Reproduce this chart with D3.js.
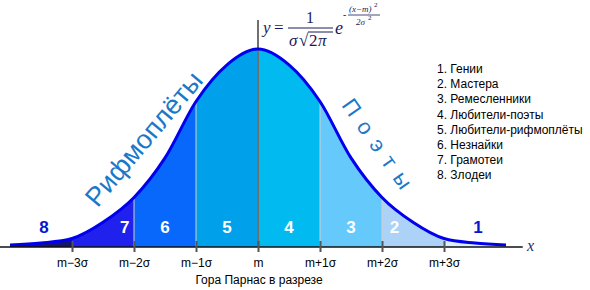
<!DOCTYPE html>
<html>
<head>
<meta charset="utf-8">
<script src="https://cdn.jsdelivr.net/npm/d3@7"></script>
<style>
  body { margin: 0; background: #fff; }
  svg { display: block; font-family: "Liberation Sans", Arial, sans-serif; }
</style>
</head>
<body>
<div id="chart"></div>
<script>
// curve: position in sigma units, height as share of peak
const sigmaPos = [-4, -3.5, -3, -2.5, -2, -1.5, -1, -0.5, 0, 0.5, 1, 1.5, 2, 2.5, 3, 3.5, 4];
const heights  = [0.01, 0.02, 0.043, 0.125, 0.25, 0.45, 0.735, 0.92, 1, 0.92, 0.735, 0.45, 0.25, 0.125, 0.043, 0.02, 0.01];

// bands between the sigma marks, left to right
const bandEdges  = [-4, -3, -2, -1, 0, 1, 2, 3, 4];
const bandNums   = ["8", "7", "6", "5", "4", "3", "2", "1"];
const bandColors = ["#15156e", "#2121ee", "#0868fb", "#00a0ea", "#00baf0", "#66c9fb", "#acd2f7", "#dbeefd"];
const numPos     = [-3.45, -2.15, -1.5, -0.5, 0.5, 1.5, 2.2, 3.55];
const numColors  = ["#0a14cc", "#fff", "#fff", "#fff", "#fff", "#fff", "#fff", "#0a14cc"];

const tickVals   = [-3, -2, -1, 0, 1, 2, 3];
const tickLabels = ["m\u22123\u03c3", "m\u22122\u03c3", "m\u22121\u03c3", "m", "m+1\u03c3", "m+2\u03c3", "m+3\u03c3"];
const dividers   = [-2, -1, 1, 2];

const legendItems = ["1. Гении", "2. Мастера", "3. Ремесленники", "4. Любители-поэты",
                     "5. Любители-рифмоплёты", "6. Незнайки", "7. Грамотеи", "8. Злодеи"];

const W = 590, H = 290;
const x = d3.scaleLinear().domain([-4, 4]).range([10, 506]);
const y = d3.scaleLinear().domain([0, 1]).range([247, 49]);

const svg = d3.select("#chart").append("svg").attr("width", W).attr("height", H);

const pts = sigmaPos.map((s, i) => ({s: s, h: heights[i]}));

const area = d3.area().x(d => x(d.s)).y0(y(0)).y1(d => y(d.h)).curve(d3.curveMonotoneX);
const line = d3.line().x(d => x(d.s)).y(d => y(d.h)).curve(d3.curveMonotoneX);

// one clip per band, same area path in each
const defs = svg.append("defs");
bandColors.forEach((c, i) => {
  defs.append("clipPath").attr("id", "band" + i)
    .append("rect")
      .attr("x", x(bandEdges[i])).attr("y", 0)
      .attr("width", x(bandEdges[i + 1]) - x(bandEdges[i])).attr("height", H);
  svg.append("path").datum(pts)
    .attr("d", area).attr("fill", c)
    .attr("clip-path", "url(#band" + i + ")");
});

// light dividers inside the curve
const hAt = s => heights[sigmaPos.indexOf(s)];
svg.selectAll(".div").data(dividers).join("line")
  .attr("x1", d => x(d)).attr("x2", d => x(d))
  .attr("y1", y(0)).attr("y2", d => y(hAt(d)))
  .attr("stroke", "#d0d0d0").attr("stroke-width", 1);

// y axis (gray vertical through m)
svg.append("line")
  .attr("x1", x(0)).attr("x2", x(0)).attr("y1", 20).attr("y2", y(0))
  .attr("stroke", "#707070").attr("stroke-width", 2);

// curve outline
svg.append("path").datum(pts)
  .attr("d", line).attr("fill", "none")
  .attr("stroke", "#0000ee").attr("stroke-width", 3);

// x axis
svg.append("line")
  .attr("x1", 0).attr("x2", x(4.27)).attr("y1", y(0)).attr("y2", y(0))
  .attr("stroke", "#111").attr("stroke-width", 1.5);

const xAxis = d3.axisBottom(x).tickValues(tickVals)
  .tickFormat((d, i) => tickLabels[i]).tickSize(5).tickPadding(6);
const gx = svg.append("g").attr("transform", `translate(0,${y(0)})`).call(xAxis);
gx.select(".domain").remove();
gx.selectAll(".tick line").attr("y1", -6).attr("y2", 5).attr("stroke", "#555").attr("stroke-width", 2);
gx.selectAll(".tick text").attr("font-size", 12).attr("fill", "#000")
  .attr("font-family", "Liberation Sans, Arial, sans-serif");

svg.append("text").attr("x", 527).attr("y", 251)
  .attr("font-family", "Liberation Serif, serif").attr("font-style", "italic")
  .attr("font-size", 16).attr("fill", "#1a2a80").text("x");

// band numbers
svg.selectAll(".num").data(bandNums).join("text")
  .attr("x", (d, i) => x(numPos[i])).attr("y", 233)
  .attr("text-anchor", "middle").attr("font-weight", "bold").attr("font-size", 17)
  .attr("fill", (d, i) => numColors[i]).text(d => d);

// caption
svg.append("text").attr("x", 259).attr("y", 284).attr("text-anchor", "middle")
  .attr("font-size", 12).attr("fill", "#000").text("Гора Парнас в разрезе");

// legend
svg.selectAll(".leg").data(legendItems).join("text")
  .attr("x", 437).attr("y", (d, i) => 73 + i * 15.2)
  .attr("font-size", 12).attr("fill", "#000").text(d => d);

// slanted words along the slopes
svg.append("text")
  .attr("transform", "translate(144,139) rotate(-50)")
  .attr("text-anchor", "middle").attr("dominant-baseline", "central")
  .attr("font-size", 27).attr("fill", "#1b78c8").text("Рифмоплёты");

svg.append("text")
  .attr("transform", "translate(380,148) rotate(55)")
  .attr("text-anchor", "middle").attr("dominant-baseline", "central")
  .attr("font-size", 22).attr("letter-spacing", 10).attr("fill", "#1b78c8").text("Поэты");

// formula
const f = svg.append("g").attr("font-family", "Liberation Serif, serif").attr("fill", "#1a1a5a");
f.append("text").attr("x", 263).attr("y", 33).attr("font-style", "italic").attr("font-size", 17).text("y");
f.append("text").attr("x", 274).attr("y", 33).attr("font-size", 17).text("=");
f.append("text").attr("x", 310).attr("y", 23).attr("text-anchor", "middle").attr("font-size", 16).text("1");
f.append("line").attr("x1", 288).attr("x2", 333).attr("y1", 28).attr("y2", 28).attr("stroke", "#1a1a5a").attr("stroke-width", 1);
f.append("text").attr("x", 289).attr("y", 46).attr("font-style", "italic").attr("font-size", 17).text("σ");
f.append("text").attr("x", 299).attr("y", 46).attr("font-size", 17).text("√");
f.append("line").attr("x1", 308).attr("x2", 333).attr("y1", 32).attr("y2", 32).attr("stroke", "#1a1a5a").attr("stroke-width", 1);
f.append("text").attr("x", 309).attr("y", 46).attr("font-size", 17).text("2");
f.append("text").attr("x", 318).attr("y", 46).attr("font-style", "italic").attr("font-size", 17).text("π");
f.append("text").attr("x", 335).attr("y", 34).attr("font-style", "italic").attr("font-size", 18).text("e");
f.append("text").attr("x", 343).attr("y", 18).attr("font-size", 10).text("-");
f.append("text").attr("x", 349).attr("y", 12).attr("font-style", "italic").attr("font-size", 9).text("(x−m)");
f.append("text").attr("x", 374).attr("y", 7).attr("font-size", 7).text("2");
f.append("line").attr("x1", 348).attr("x2", 380).attr("y1", 15).attr("y2", 15).attr("stroke", "#1a1a5a").attr("stroke-width", 0.8);
f.append("text").attr("x", 356).attr("y", 25).attr("font-style", "italic").attr("font-size", 9).text("2σ");
f.append("text").attr("x", 368).attr("y", 20).attr("font-size", 7).text("2");
</script>
</body>
</html>
